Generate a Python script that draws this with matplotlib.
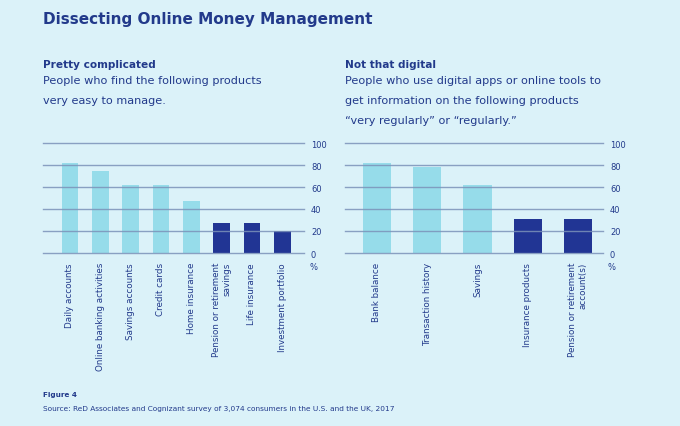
import matplotlib.pyplot as plt
import numpy as np

plt.rcParams['font.family'] = ['DejaVu Sans']

# left panel: products people find very easy to manage
left_cats = ["Daily accounts", "Online banking activities", "Savings accounts",
             "Credit cards", "Home insurance", "Pension or retirement\nsavings",
             "Life insurance", "Investment portfolio"]
left_vals = [82, 75, 62, 62, 47, 27, 27, 20]
left_dark = [False, False, False, False, False, True, True, True]

# right panel: products checked with digital tools
right_cats = ["Bank balance", "Transaction history", "Savings",
              "Insurance products", "Pension or retirement\naccount(s)"]
right_vals = [82, 78, 62, 31, 31]
right_dark = [False, False, False, True, True]

yticks = [0, 20, 40, 60, 80, 100]

bg = '#dbf2f9'
light = '#96dcea'
dark = '#213594'
navy = '#223a8b'
grid = '#7b92b9'

W, H = 680, 427
fig = plt.figure(figsize=(6.8, 4.27), dpi=100, facecolor=bg)


def panel(x0, x1, cats, vals, darks, xlim, width):
    ax = fig.add_axes([x0 / W, 1 - 254 / H, (x1 - x0) / W, 111.1 / H])
    ax.set_facecolor(bg)
    x = np.arange(len(cats))
    cols = [dark if d else light for d in darks]
    ax.bar(x, vals, width=width, color=cols, zorder=1)
    for t in yticks:
        ax.axhline(t, color=grid, lw=1.0, alpha=0.85, zorder=2, clip_on=False)
    ax.set_xlim(*xlim)
    ax.set_ylim(0, 101)
    ax.set_xticks(x)
    ax.set_xticklabels(cats, rotation=90, ha='center', va='top',
                       multialignment='right', fontsize=6.3, color=navy,
                       linespacing=1.25)
    ax.yaxis.tick_right()
    ax.set_yticks(yticks)
    ax.set_yticklabels([str(t) for t in yticks], fontsize=6.0, color=navy)
    ax.tick_params(axis='x', length=0, pad=6.5)
    ax.tick_params(axis='y', length=0, pad=5)
    for s in ax.spines.values():
        s.set_visible(False)
    fig.text((x1 + 9) / W, 1 - 268 / H, '%', fontsize=6.0, color=navy,
             ha='center', va='center')
    return ax


panel(43.3, 304, left_cats, left_vals, left_dark, (-0.88, 7.715), 0.55)
panel(345, 603, right_cats, right_vals, right_dark, (-0.637, 4.50), 0.56)

fig.text(43 / W, 1 - 24 / H, "Dissecting Online Money Management",
         fontsize=11, fontweight='bold', color=navy, va='baseline')

fig.text(43 / W, 1 - 67.5 / H, "Pretty complicated", fontsize=7.6,
         fontweight='bold', color=navy, va='baseline')
left_sub = ["People who find the following products", "very easy to manage."]
for i, line in enumerate(left_sub):
    fig.text(43 / W, 1 - (84.5 + 20 * i) / H, line, fontsize=8.1,
             color=navy, va='baseline')

fig.text(345 / W, 1 - 67.5 / H, "Not that digital", fontsize=7.6,
         fontweight='bold', color=navy, va='baseline')
right_sub = ["People who use digital apps or online tools to",
             "get information on the following products",
             "\u201cvery regularly\u201d or \u201cregularly.\u201d"]
for i, line in enumerate(right_sub):
    fig.text(345 / W, 1 - (84.5 + 20 * i) / H, line, fontsize=8.1,
             color=navy, va='baseline')

fig.text(43 / W, 1 - 397.5 / H, "Figure 4", fontsize=5.2,
         fontweight='bold', color=navy, va='baseline')
fig.text(43 / W, 1 - 411 / H,
         "Source: ReD Associates and Cognizant survey of 3,074 consumers in the U.S. and the UK, 2017",
         fontsize=5.35, color=navy, va='baseline')

fig.savefig('out.png', dpi=100, facecolor=bg)
